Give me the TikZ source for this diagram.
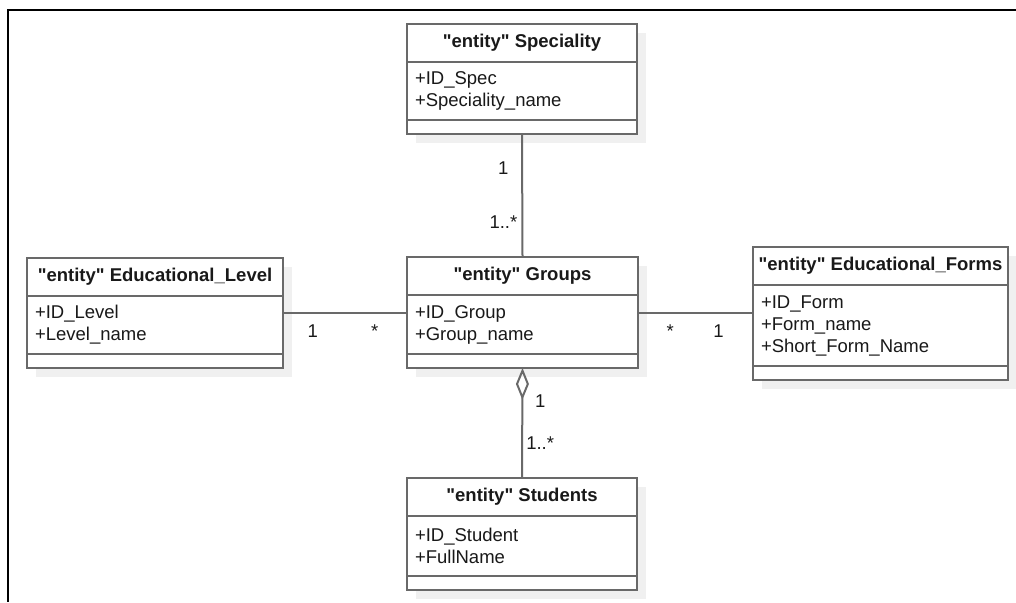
\documentclass[tikz,border=0pt]{standalone}
\usepackage{fontspec}
\setmainfont{Liberation Sans}
\usepackage{tikz}
\usetikzlibrary{arrows.meta,positioning,fit,backgrounds}
\definecolor{boxgray}{RGB}{105,105,105}
\definecolor{shadowgray}{RGB}{240,240,240}
\definecolor{textdark}{RGB}{25,25,25}
\newcommand{\qt}{\textquotedbl}
\tikzset{
	entity diagram/.style={
		x=1pt, y=-1pt,
		every node/.style={font=\fontsize{18.5}{22}\selectfont, text=textdark},
		link/.style={draw=boxgray, line width=2pt},
		lbl/.style={inner sep=0pt, anchor=base},
		frame/.style={draw=black, line width=2.5pt}
		},
	ent head/.style={draw=boxgray, fill=white, line width=2pt, anchor=north west,
		minimum width=#1, minimum height=38, inner sep=0pt, outer sep=0pt,
		font=\fontsize{18.5}{22}\selectfont\bfseries},
	ent attr/.code 2 args={
		\pgfmathsetlengthmacro{\entw}{#1-16}
		\pgfkeysalso{draw=boxgray, fill=white, line width=2pt, text width=\entw,
			minimum width=#1, minimum height=#2, inner xsep=8pt, inner ysep=0pt,
			outer sep=0pt, align=left}
	},
	ent foot/.style={draw=boxgray, fill=white, line width=2pt,
		minimum width=#1, minimum height=14, inner sep=0pt, outer sep=0pt},
	ent box/.style={inner sep=0pt, outer sep=0pt},
	ent shadow/.style={fill=shadowgray}
}

\begin{document}
\begin{tikzpicture}[entity diagram]
	\useasboundingbox (0,0) rectangle (1016,602);
	\draw[frame] (1016,10) -| (8,602);
	% entities
	\node[ent head=230] (Spec_head) at (407,24) {\qt entity\qt{} Speciality};
	\node[ent attr={230}{58}, below=0pt of Spec_head] (Spec_attr) {+ID\_Spec\\+Speciality\_name};
	\node[ent foot=230, below=0pt of Spec_attr] (Spec_foot) {};
	\node[ent box, fit=(Spec_head)(Spec_foot)] (Spec) {};

	\node[ent head=256] (Lvl_head) at (27,258) {\qt entity\qt{} Educational\_Level};
	\node[ent attr={256}{58}, below=0pt of Lvl_head] (Lvl_attr) {+ID\_Level\\+Level\_name};
	\node[ent foot=256, below=0pt of Lvl_attr] (Lvl_foot) {};
	\node[ent box, fit=(Lvl_head)(Lvl_foot)] (Lvl) {};

	\node[ent head=231] (Grp_head) at (407,257) {\qt entity\qt{} Groups};
	\node[ent attr={231}{59}, below=0pt of Grp_head] (Grp_attr) {+ID\_Group\\+Group\_name};
	\node[ent foot=231, below=0pt of Grp_attr] (Grp_foot) {};
	\node[ent box, fit=(Grp_head)(Grp_foot)] (Grp) {};

	\node[ent head=255] (Frm_head) at (753,247) {\qt entity\qt{} Educational\_Forms};
	\node[ent attr={255}{81}, below=0pt of Frm_head] (Frm_attr) {+ID\_Form\\+Form\_name\\+Short\_Form\_Name};
	\node[ent foot=255, below=0pt of Frm_attr] (Frm_foot) {};
	\node[ent box, fit=(Frm_head)(Frm_foot)] (Frm) {};

	\node[ent head=230] (Stu_head) at (407,478) {\qt entity\qt{} Students};
	\node[ent attr={230}{60}, below=0pt of Stu_head] (Stu_attr) {+ID\_Student\\+FullName};
	\node[ent foot=230, below=0pt of Stu_attr] (Stu_foot) {};
	\node[ent box, fit=(Stu_head)(Stu_foot)] (Stu) {};

	\begin{scope}[on background layer]
		\foreach \e in {Spec,Lvl,Grp,Frm,Stu}
			\fill[ent shadow] ([shift={(9,9)}]\e.north west) rectangle ([shift={(9,9)}]\e.south east);
	\end{scope}

	% associations
	\draw[link] (Spec.south) -- (Grp.north)
		node[lbl, pos=.33, xshift=-19pt] {1}
		node[lbl, pos=.77, xshift=-19pt] {1..*};
	\draw[link] (Grp.west -| Lvl.east) -- (Grp.west)
		node[lbl, pos=.24, yshift=-25pt] {1}
		node[lbl, pos=.74, yshift=-25pt] {*};
	\draw[link] (Grp.east) -- (Grp.east -| Frm.west)
		node[lbl, pos=.28, yshift=-25pt] {*}
		node[lbl, pos=.70, yshift=-25pt] {1};
	\draw[link, {Diamond[open, length=32pt, width=13pt]}-] (Grp.south) -- (Stu.north)
		node[lbl, pos=.36, xshift=18pt] {1}
		node[lbl, pos=.74, xshift=18pt] {1..*};
\end{tikzpicture}
\end{document}
